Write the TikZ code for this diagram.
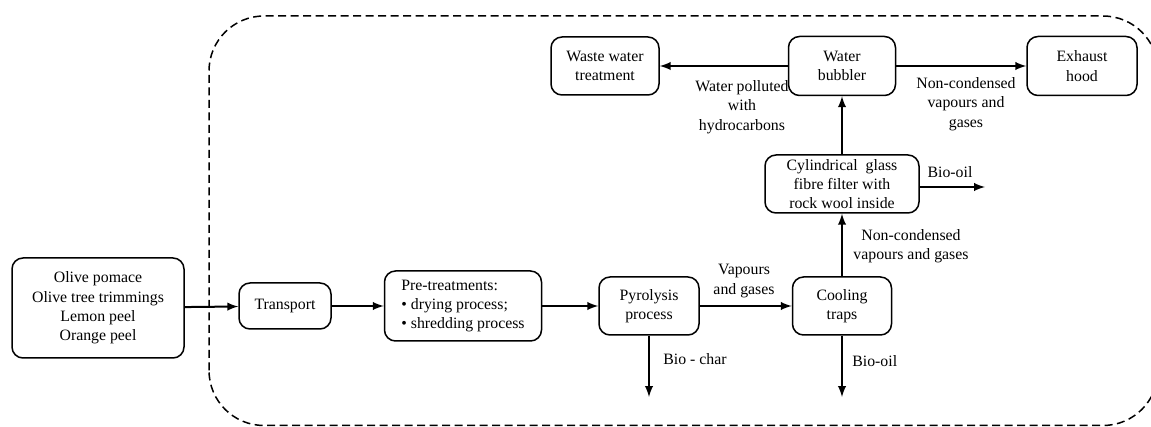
\documentclass[tikz,border=0pt]{standalone}
\usepackage{fontspec}
\setmainfont{Liberation Serif}
\usepackage{tikz}
\usetikzlibrary{arrows,calc}
\tikzstyle{tsText} = [
    text=black,
    font=\fontsize{9}{11}\selectfont
]
\tikzstyle{tsLabel} = [
    tsText,
    align=center,
    inner sep=0pt
]
\tikzstyle{tsBox} = [
    rectangle,
    rounded corners=2.2mm,
    tsText,
    align=center,
    draw=black,
    line width=0.3mm,
    inner sep=1pt
]
\tikzstyle{tsFlow} = [
    -latex,
    line width=0.4mm
]
\tikzstyle{tsBorder} = [
    dash pattern=on 1.6mm off 0.9mm,
    line width=0.3mm,
    rounded corners=1.1cm
]

\begin{document}
\begin{tikzpicture}

        \useasboundingbox (0,0) rectangle (23.02,8.54);

        % system boundary
        \begin{scope}
            \clip (0,0) rectangle (23.02,8.54);
            \draw[tsBorder] (4.18,0.03) rectangle (23.16,8.22);
        \end{scope}

        % main line
        \node[tsBox, minimum width=3.44cm, minimum height=2cm] (feed) at (1.96,2.38)
            {Olive pomace\\Olive tree trimmings\\Lemon peel\\Orange peel};
        \node[tsBox, minimum width=1.84cm, minimum height=0.92cm] (transport) at (5.70,2.42) {Transport};
        \node[tsBox, minimum width=3.14cm, minimum height=1.4cm, align=left] (pretreat) at (9.26,2.42)
            {Pre-treatments:\\\textbullet\ drying process;\\\textbullet\ shredding process};
        \node[tsBox, minimum width=2cm, minimum height=1.16cm] (pyro) at (12.98,2.42) {Pyrolysis\\process};
        \node[tsBox, minimum width=1.98cm, minimum height=1.16cm] (cooling) at (16.84,2.42) {Cooling\\traps};

        % gas cleaning line
        \node[tsBox, minimum width=3.08cm, minimum height=1.16cm] (filter) at (16.84,4.86)
            {Cylindrical\ \ glass\\fibre\ filter\ with\\rock wool inside};
        \node[tsBox, minimum width=2.14cm, minimum height=1.18cm] (bubbler) at (16.84,7.22) {Water\\bubbler};
        \node[tsBox, minimum width=2.2cm, minimum height=1.18cm] (hood) at (21.64,7.22) {Exhaust\\hood};
        \node[tsBox, minimum width=2.16cm, minimum height=1.16cm] (wastewater) at (12.10,7.22) {Waste water\\treatment};

        % free ends
        \coordinate (charout) at (12.98,0.60);
        \coordinate (oilout) at (16.84,0.60);
        \coordinate (oilout2) at (19.70,4.80);

        \draw[tsFlow] (feed) -- (transport);
        \draw[tsFlow] (transport) -- (pretreat);
        \draw[tsFlow] (pretreat) -- (pyro);
        \draw[tsFlow] (pyro) -- (cooling);
        \draw[tsFlow] (pyro) -- (charout);
        \draw[tsFlow] (cooling) -- (oilout);
        \draw[tsFlow] (cooling) -- (filter);
        \draw[tsFlow] (filter.east |- oilout2) -- (oilout2);
        \draw[tsFlow] (filter) -- (bubbler);
        \draw[tsFlow] (bubbler) -- (hood);
        \draw[tsFlow] (bubbler) -- (wastewater);

        % stream labels
        \node[tsLabel] (lvap) at (14.88,2.92) {Vapours\\and gases};
        \node[tsLabel, anchor=west] (lchar) at (13.26,1.36) {Bio - char};
        \node[tsLabel, anchor=west] (loil) at (17.04,1.32) {Bio-oil};
        \node[tsLabel] (lnc) at (18.22,3.62) {Non-condensed\\vapours and gases};
        \node[tsLabel] (loil2) at (19.00,5.10) {Bio-oil};
        \node[tsLabel] (lnc2) at (19.32,6.46) {Non-condensed\\vapours and\\gases};
        \node[tsLabel] (lwater) at (14.84,6.40) {Water polluted\\with\\hydrocarbons};

\end{tikzpicture}
\end{document}
